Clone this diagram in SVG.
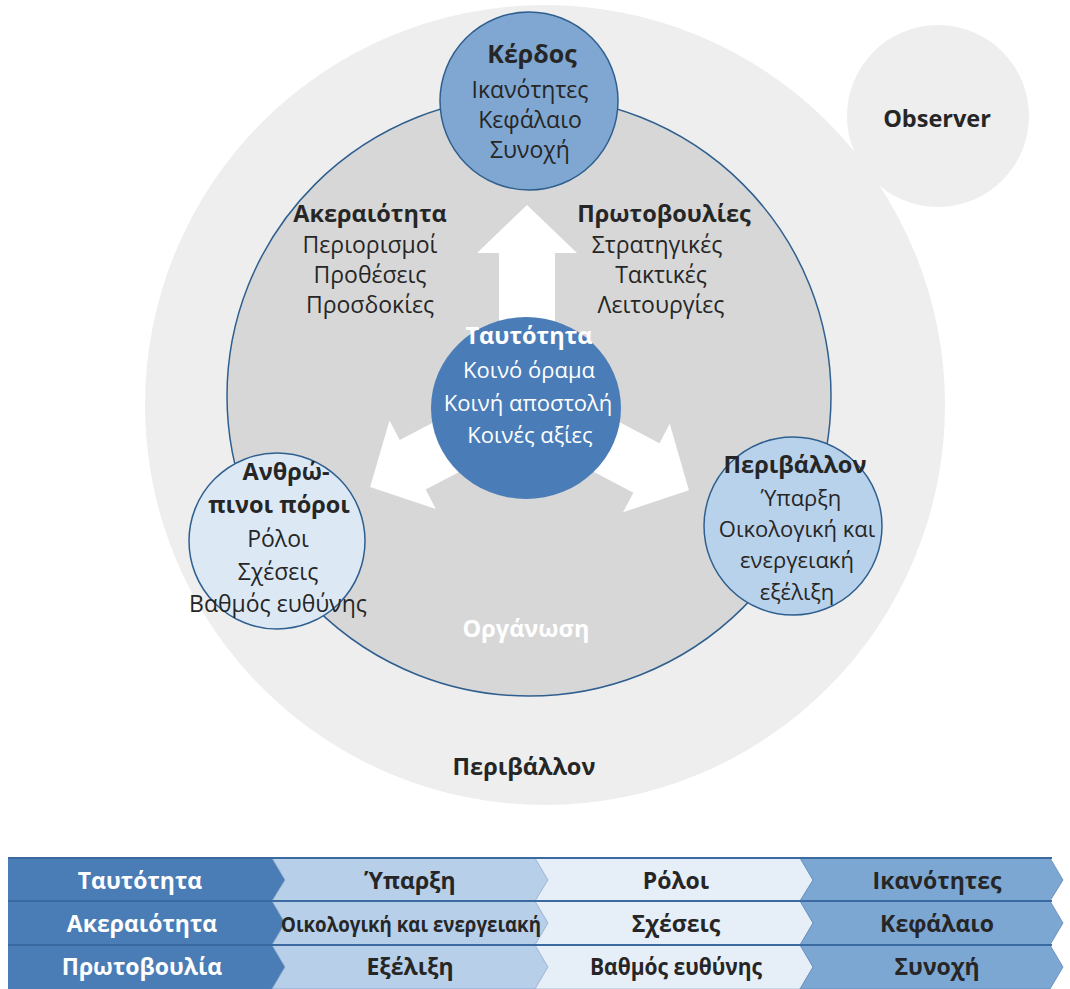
<svg xmlns="http://www.w3.org/2000/svg" width="1070" height="989" viewBox="0 0 1070 989">
<defs>
<style>
.t{font-family:"Open Sans","Noto Sans","DejaVu Sans",sans-serif;font-size:23px;fill:#262626;text-anchor:middle}
.b{font-weight:bold;font-size:23.5px}
.tb{font-family:"Open Sans","Noto Sans","DejaVu Sans",sans-serif;font-size:23px;font-weight:bold;fill:#262626;text-anchor:middle}
.t.w,.tb.w{fill:#ffffff}
.s{font-size:22px}
.edge{stroke:#2f5f8f;stroke-width:1.5}
.arrow{fill:#ffffff}
.sep{stroke:#3a6aa0;stroke-width:2}
</style>
</defs>
<rect x="0" y="0" width="1070" height="989" fill="#ffffff"/>
<g id="background">
<circle cx="545" cy="405" r="400" fill="#eeeeee"/>
<circle cx="938" cy="116" r="91" fill="#eeeeee"/>
</g>
<g id="organisation">
<ellipse cx="529" cy="396" rx="302" ry="300" fill="#d7d7d7" class="edge"/>
</g>
<g id="connectors">
<polygon class="arrow" transform="translate(527,405) rotate(-90)" points="0,-28 152,-28 152,-50 200,0 152,50 152,28 0,28"/>
<polygon class="arrow" transform="translate(527,405) rotate(152.4)" points="0,-28 129,-28 129,-50 177,0 129,50 129,28 0,28"/>
<polygon class="arrow" transform="translate(527,405) rotate(27.8)" points="0,-28 135,-28 135,-50 183,0 135,50 135,28 0,28"/>
</g>
<g id="kerdos">
<circle cx="529" cy="101" r="89" fill="#7fa7d2" class="edge"/>
<text class="t b" x="532" y="63" style="font-size:25px">Κέρδος</text>
<text class="t" x="530" y="98">Ικανότητες</text>
<text class="t" x="530" y="128">Κεφάλαιο</text>
<text class="t" x="530" y="158">Συνοχή</text>
</g>
<g id="observer">
<text class="t b" x="937" y="127">Observer</text>
</g>
<g id="akeraiotita">
<text class="t b" x="370" y="222">Ακεραιότητα</text>
<text class="t" x="370" y="253">Περιορισμοί</text>
<text class="t" x="370" y="283">Προθέσεις</text>
<text class="t" x="370" y="313">Προσδοκίες</text>
</g>
<g id="protovoulies">
<text class="t b" x="664" y="222">Πρωτοβουλίες</text>
<text class="t" x="657" y="253">Στρατηγικές</text>
<text class="t" x="661" y="283">Τακτικές</text>
<text class="t" x="661" y="313">Λειτουργίες</text>
</g>
<g id="tautotita">
<ellipse cx="526" cy="408" rx="95" ry="91" fill="#4a7db8"/>
<text class="t b w" x="529" y="344">Ταυτότητα</text>
<text class="t w s" x="529" y="378">Κοινό όραμα</text>
<text class="t w s" x="528" y="411">Κοινή αποστολή</text>
<text class="t w s" x="530" y="443">Κοινές αξίες</text>
</g>
<g id="anthropinoi">
<circle cx="277" cy="541" r="88" fill="#dce9f5" class="edge"/>
<text class="t b" x="286" y="480">Ανθρώ-</text>
<text class="t b" x="279" y="513">πινοι πόροι</text>
<text class="t" x="278" y="547">Ρόλοι</text>
<text class="t" x="278" y="580">Σχέσεις</text>
<text class="t" x="278" y="612">Βαθμός ευθύνης</text>
</g>
<g id="perivallon-circle">
<circle cx="793" cy="526" r="89" fill="#b9d2eb" class="edge"/>
<text class="t b" x="795" y="473">Περιβάλλον</text>
<text class="t s" x="801" y="506">Ύπαρξη</text>
<text class="t s" x="797" y="537">Οικολογική και</text>
<text class="t s" x="797" y="568">ενεργειακή</text>
<text class="t s" x="797" y="600">εξέλιξη</text>
</g>
<g id="organosi-label">
<text class="t b w" x="526" y="637">Οργάνωση</text>
</g>
<g id="perivallon-label">
<text class="t b" x="524" y="775">Περιβάλλον</text>
</g>
<g id="table">
<g id="row1">
<polygon points="8,858 272,858 285,880 272,901 8,901" fill="#4a7cb6"/>
<polygon points="272,858 535,858 548,880 535,901 272,901 285,880" fill="#b7cfe8" stroke="#7f9fc4" stroke-width="0.8"/>
<polygon points="535,858 800,858 813,880 800,901 535,901 548,880" fill="#e6eef7" stroke="#9fb6d2" stroke-width="0.8"/>
<polygon points="800,858 1050,858 1063,880 1050,901 800,901 813,880" fill="#7da7d3" stroke="#5f88b8" stroke-width="0.8"/>
<text class="tb w" x="140" y="889">Ταυτότητα</text>
<text class="tb" x="410" y="889">Ύπαρξη</text>
<text class="tb" x="676" y="889">Ρόλοι</text>
<text class="tb" x="937" y="889">Ικανότητες</text>
</g>
<g id="row2">
<polygon points="8,901 272,901 285,923 272,945 8,945" fill="#4a7cb6"/>
<polygon points="272,901 535,901 548,923 535,945 272,945 285,923" fill="#b7cfe8" stroke="#7f9fc4" stroke-width="0.8"/>
<polygon points="535,901 800,901 813,923 800,945 535,945 548,923" fill="#e6eef7" stroke="#9fb6d2" stroke-width="0.8"/>
<polygon points="800,901 1050,901 1063,923 1050,945 800,945 813,923" fill="#7da7d3" stroke="#5f88b8" stroke-width="0.8"/>
<text class="tb w" x="142" y="932">Ακεραιότητα</text>
<text class="tb" x="411" y="932" style="font-size:21px" textLength="260" lengthAdjust="spacingAndGlyphs">Οικολογική και ενεργειακή</text>
<text class="tb" x="676" y="932">Σχέσεις</text>
<text class="tb" x="937" y="932">Κεφάλαιο</text>
</g>
<g id="row3">
<polygon points="8,945 272,945 285,967 272,989 8,989" fill="#4a7cb6"/>
<polygon points="272,945 535,945 548,967 535,989 272,989 285,967" fill="#b7cfe8" stroke="#7f9fc4" stroke-width="0.8"/>
<polygon points="535,945 800,945 813,967 800,989 535,989 548,967" fill="#e6eef7" stroke="#9fb6d2" stroke-width="0.8"/>
<polygon points="800,945 1050,945 1063,967 1050,989 800,989 813,967" fill="#7da7d3" stroke="#5f88b8" stroke-width="0.8"/>
<text class="tb w" x="142" y="975">Πρωτοβουλία</text>
<text class="tb" x="410" y="975">Εξέλιξη</text>
<text class="tb" x="676" y="975" textLength="172" lengthAdjust="spacingAndGlyphs">Βαθμός ευθύνης</text>
<text class="tb" x="937" y="975">Συνοχή</text>
</g>
<line class="sep" x1="8" y1="858" x2="1052" y2="858"/>
<line class="sep" x1="8" y1="901" x2="1052" y2="901"/>
<line class="sep" x1="8" y1="945" x2="1052" y2="945"/>
</g>
</svg>
